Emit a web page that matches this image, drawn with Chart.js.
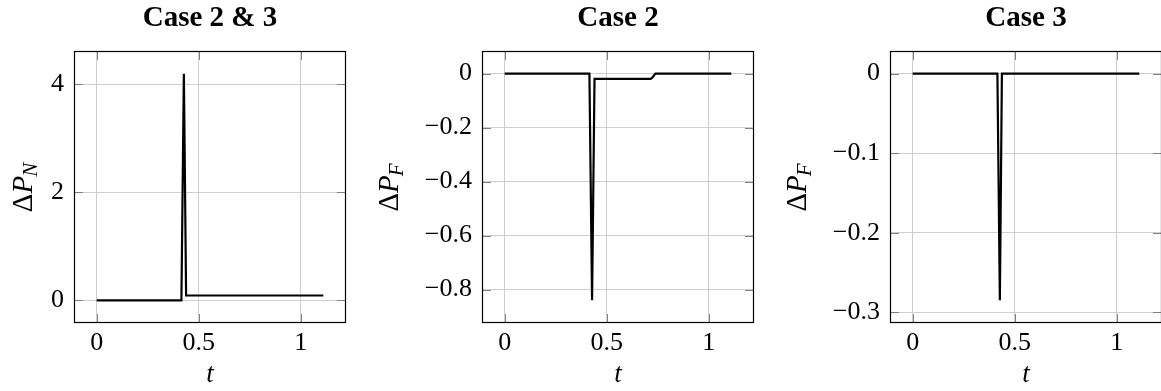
<!DOCTYPE html>
<html><head><meta charset="utf-8">
<script src="https://cdn.jsdelivr.net/npm/chart.js@4/dist/chart.umd.min.js"></script>
<style>
html,body{margin:0;padding:0;background:#fff;width:1161px;height:391px;overflow:hidden;position:relative}
canvas{position:absolute;top:0}
</style></head><body>
<canvas id="c1" width="420" height="391" style="left:0px"></canvas>
<canvas id="c2" width="516" height="391" style="left:360px"></canvas>
<canvas id="c3" width="492" height="391" style="left:780px"></canvas>
<script>
// ---- data ----
const titles = ['Case 2 & 3', 'Case 2', 'Case 3'];
const xLabel = 't';
const yLabelSubs = ['N', 'F', 'F'];

const tN  = [0, 0.415, 0.427, 0.438, 1.11];
const dPN = [0, 0, 4.2, 0.09, 0.09];

const tF2  = [0, 0.415, 0.428, 0.44, 0.715, 0.722, 0.738, 1.11];
const dPF2 = [0, 0, -0.84, -0.019, -0.019, -0.016, 0, 0];

const tF3  = [0, 0.415, 0.427, 0.437, 1.11];
const dPF3 = [0, 0, -0.285, 0, 0];

const xTicks = [0, 0.5, 1];
const xTickLabels = ['0', '0.5', '1'];
const yTicksN = [0, 2, 4];
const yTickLabelsN = ['0', '2', '4'];
const yTicksF2 = [-0.8, -0.6, -0.4, -0.2, 0];
const yTickLabelsF2 = ['\u22120.8', '\u22120.6', '\u22120.4', '\u22120.2', '0'];
const yTicksF3 = [-0.3, -0.2, -0.1, 0];
const yTickLabelsF3 = ['\u22120.3', '\u22120.2', '\u22120.1', '0'];

// ---- style ----
const SERIF = '"Liberation Serif", serif';
const GRID = '#cfcfcf';

function lim(arr) {
  const mn = Math.min(...arr), mx = Math.max(...arr), r = mx - mn;
  return [mn - 0.1 * r, mx + 0.1 * r];
}

const frame = {
  id: 'frame',
  beforeDatasetsDraw(chart) {
    const {ctx, chartArea: a, scales} = chart;
    const L = 9;
    ctx.save();
    ctx.strokeStyle = '#808080';
    ctx.lineWidth = 1;
    ctx.beginPath();
    scales.x.ticks.forEach(t => {
      const p = Math.round(scales.x.getPixelForValue(t.value)) + 0.5;
      ctx.moveTo(p, a.bottom); ctx.lineTo(p, a.bottom - L);
      ctx.moveTo(p, a.top); ctx.lineTo(p, a.top + L);
    });
    scales.y.ticks.forEach(t => {
      const p = Math.round(scales.y.getPixelForValue(t.value)) + 0.5;
      ctx.moveTo(a.left, p); ctx.lineTo(a.left + L, p);
      ctx.moveTo(a.right, p); ctx.lineTo(a.right - L, p);
    });
    ctx.stroke();
    ctx.restore();
  },
  afterDraw(chart, args, o) {
    const {ctx, chartArea: a} = chart;
    ctx.save();
    ctx.strokeStyle = '#000';
    ctx.lineWidth = 1.2;
    ctx.strokeRect(Math.round(a.left) + 0.5, Math.round(a.top) + 0.5,
                   Math.round(a.right) - Math.round(a.left) - 1, Math.round(a.bottom) - Math.round(a.top) - 1);
    // y-axis label: Δ P_sub
    const fs = 29, ss = 21;
    const fD = fs + 'px ' + SERIF, fP = 'italic ' + fs + 'px ' + SERIF, fS = 'italic ' + ss + 'px ' + SERIF;
    ctx.fillStyle = '#000';
    ctx.textBaseline = 'alphabetic';
    ctx.textAlign = 'left';
    ctx.translate(o.labelX, (a.top + a.bottom) / 2);
    ctx.rotate(-Math.PI / 2);
    ctx.font = fD; const wD = ctx.measureText('\u0394').width;
    ctx.font = fP; const wP = ctx.measureText('P').width;
    ctx.font = fS; const wS = ctx.measureText(o.sub).width;
    const x0 = -(wD + wP + wS) / 2;
    ctx.font = fD; ctx.fillText('\u0394', x0, 0);
    ctx.font = fP; ctx.fillText('P', x0 + wD, 0);
    ctx.font = fS; ctx.fillText(o.sub, x0 + wD + wP - 1, 0.16 * fs);
    ctx.restore();
  }
};

function makeChart(id, cfg) {
  const [xmin, xmax] = lim(cfg.t);
  const [ymin, ymax] = lim(cfg.v);
  return new Chart(document.getElementById(id), {
    type: 'line',
    data: {
      datasets: [{
        data: cfg.t.map((t, i) => ({x: t, y: cfg.v[i]})),
        borderColor: '#000', borderWidth: 2.2, pointRadius: 0, tension: 0, fill: false
      }]
    },
    options: {
      responsive: false, animation: false, events: [],
      layout: {padding: 0},
      plugins: {
        legend: {display: false}, tooltip: {enabled: false},
        title: {display: true, text: cfg.title, color: '#000',
          font: {family: SERIF, size: 29, weight: 'bold', lineHeight: 1.2},
          padding: {top: 1, bottom: 15.2}},
        frame: {labelX: cfg.labelX, sub: cfg.sub}
      },
      scales: {
        x: {
          type: 'linear', position: 'bottom', min: xmin, max: xmax,
          afterBuildTicks: s => { s.ticks = xTicks.map(v => ({value: v})); },
          afterFit: s => { s.height = 68; },
          grid: {color: GRID, lineWidth: 1, drawTicks: false}, border: {display: false},
          ticks: {padding: 5, color: '#000', font: {family: SERIF, size: 26}, maxRotation: 0, autoSkip: false,
                  callback: (v, i) => xTickLabels[i]},
          title: {display: true, text: xLabel, color: '#000',
                  font: {family: SERIF, size: 27, style: 'italic', lineHeight: 1.2}, padding: {top: 0, bottom: 0}}
        },
        y: {
          type: 'linear', position: 'left', min: ymin, max: ymax,
          afterBuildTicks: s => { s.ticks = cfg.yTicks.map(v => ({value: v})); },
          afterFit: s => { s.width = cfg.yw; },
          grid: {color: GRID, lineWidth: 1, drawTicks: false}, border: {display: false},
          ticks: {padding: 10, color: '#000', font: {family: SERIF, size: 26}, autoSkip: false,
                  callback: (v, i) => cfg.yLabels[i]}
        },
        yR: {
          type: 'linear', position: 'right', display: true,
          afterFit: s => { s.width = cfg.yw; },
          grid: {display: false, drawTicks: false}, border: {display: false}, ticks: {display: false}
        }
      }
    },
    plugins: [frame]
  });
}

makeChart('c1', {title: titles[0], t: tN, v: dPN, yTicks: yTicksN, yLabels: yTickLabelsN, yw: 74, labelX: 32, sub: yLabelSubs[0]});
makeChart('c2', {title: titles[1], t: tF2, v: dPF2, yTicks: yTicksF2, yLabels: yTickLabelsF2, yw: 122, labelX: 38, sub: yLabelSubs[1]});
makeChart('c3', {title: titles[2], t: tF3, v: dPF3, yTicks: yTicksF3, yLabels: yTickLabelsF3, yw: 110, labelX: 26, sub: yLabelSubs[2]});
</script>
</body></html>
